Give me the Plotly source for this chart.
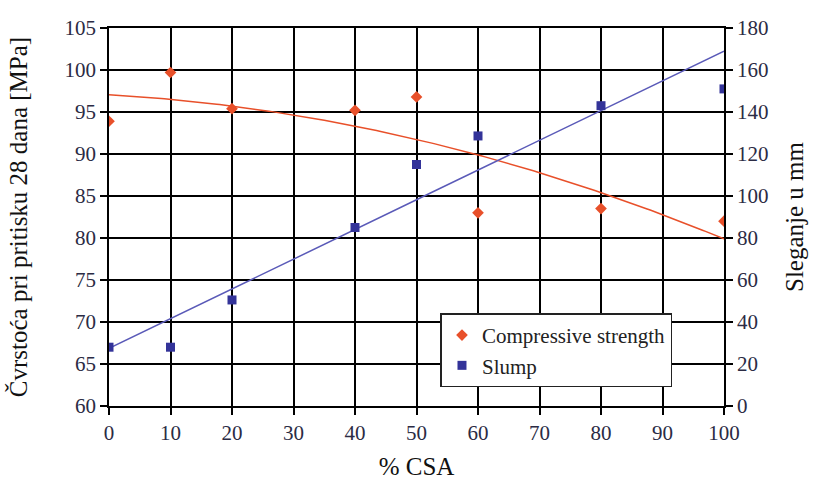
import numpy as np
import plotly.graph_objects as go

# % CSA replacement levels
csa = [0, 10, 20, 40, 50, 60, 80, 100]
# 28-day compressive strength [MPa]
strength = [93.9, 99.7, 95.4, 95.2, 96.8, 83.0, 83.5, 82.0]
# Slump [mm]
slump = [28, 28, 50.5, 85, 115, 128.6, 143, 151]

left_ticks = list(range(60, 106, 5))
right_ticks = list(range(0, 181, 20))
x_ticks = list(range(0, 101, 10))

RED = "#e8502a"
BLUE = "#333399"
FONT = "Times New Roman, Liberation Serif, serif"

# trend lines: quadratic for strength, linear for slump
xs = np.linspace(0, 100, 201)
str_fit = np.polyval(np.polyfit(csa, strength, 2), xs)
slump_fit = np.polyval(np.polyfit(csa, slump, 1), xs)

fig = go.Figure()
fig.add_trace(go.Scatter(x=xs, y=str_fit, mode="lines", line=dict(color=RED, width=1.5),
                         showlegend=False, hoverinfo="skip"))
fig.add_trace(go.Scatter(x=xs, y=slump_fit, mode="lines", yaxis="y2",
                         line=dict(color="#5a5ab8", width=1.5), showlegend=False, hoverinfo="skip"))
fig.add_trace(go.Scatter(x=csa, y=strength, mode="markers", name="Compressive strength",
                         marker=dict(symbol="diamond", size=9, color=RED)))
fig.add_trace(go.Scatter(x=csa, y=slump, mode="markers", name="Slump", yaxis="y2",
                         marker=dict(symbol="square", size=9, color=BLUE)))

tickfont = dict(family=FONT, size=21, color="#2b2b44")
titlefont = dict(family=FONT, size=25, color="#111")

fig.update_layout(
    width=814, height=489,
    margin=dict(l=109, r=90, t=28, b=83),
    paper_bgcolor="white", plot_bgcolor="white",
    font=dict(family=FONT),
    xaxis=dict(range=[0, 100], tickvals=x_ticks, showgrid=True, gridcolor="black", gridwidth=1.5,
               zeroline=False, showline=True, linecolor="black", linewidth=1.5, mirror=True,
               ticks="outside", ticklen=7, tickcolor="black", tickwidth=1.5, automargin=False,
               tickfont=tickfont, title=dict(text="% CSA", font=titlefont, standoff=14)),
    yaxis=dict(range=[60, 105], tickvals=left_ticks, showgrid=True, gridcolor="black", gridwidth=1.5,
               zeroline=False, showline=True, linecolor="black", linewidth=1.5,
               ticks="outside", ticklen=7, tickcolor="black", tickwidth=1.5, automargin=False,
               tickfont=tickfont,
               title=dict(text="Čvrstoća pri pritisku 28 dana [MPa]", font=titlefont, standoff=30)),
    yaxis2=dict(range=[0, 180], tickvals=right_ticks, overlaying="y", side="right",
                showgrid=False, zeroline=False, showline=True, linecolor="black", linewidth=1.5,
                ticks="outside", ticklen=7, tickcolor="black", tickwidth=1.5, automargin=False,
                tickfont=tickfont,
                title=dict(text="Sleganje u mm", font=titlefont, standoff=18)),
    legend=dict(x=0.539, y=0.245, xanchor="left", yanchor="top", bgcolor="white",
                bordercolor="#222", borderwidth=1.5,
                font=dict(family=FONT, size=21, color="#222"), itemwidth=30,
                tracegroupgap=0),
    showlegend=True,
)

fig.write_html("out.html")
